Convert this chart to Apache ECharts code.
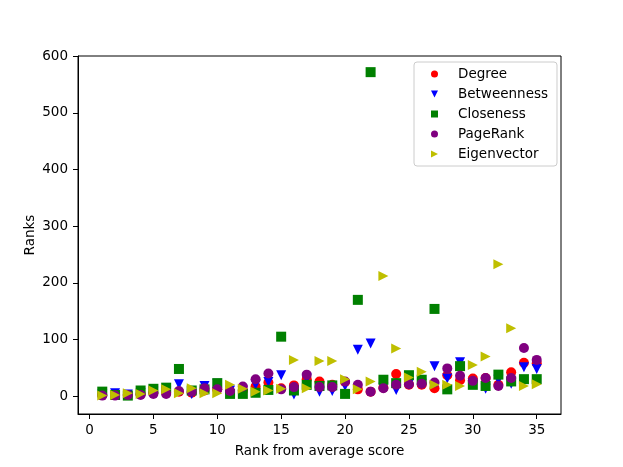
<!DOCTYPE html>
<html>
<head>
<meta charset="utf-8">
<script src="https://cdn.jsdelivr.net/npm/echarts@6/dist/echarts.min.js"></script>
<style>
html,body{margin:0;padding:0;background:#fff;}
#chart{width:623px;height:467px;}
</style>
</head>
<body>
<div id="chart"></div>
<script>
var ranks = [1,2,3,4,5,6,7,8,9,10,11,12,13,14,15,16,17,18,19,20,21,22,23,24,25,26,27,28,29,30,31,32,33,34,35];
var degree      = [2,3,2,4,6,6,8,6,10,12,8,10,17,24,14,19,30,26,20,25,12,8,15,39,20,20,14,37,28,31,32,20,42,59,58];
var betweenness = [3,5,3,5,8,8,21,4,18,22,10,10,20,25,37,3,31,8,9,18,82,93,15,11,22,22,53,31,60,22,13,29,22,51,48];
var closeness   = [8,2,1,10,13,15,48,10,12,23,4,4,6,11,105,10,20,18,19,4,170,572,29,23,37,29,154,12,53,20,18,38,26,30,30];
var pagerank    = [1,1,2,2,4,4,9,8,14,12,9,17,30,40,12,16,38,16,16,26,20,8,14,20,21,22,24,49,36,27,32,18,32,85,64];
var eigenvector = [1,2,5,4,10,12,5,14,5,5,20,13,8,10,13,64,14,62,62,30,12,26,212,84,33,43,20,20,18,55,70,233,120,18,21];
var xTicks = [0,5,10,15,20,25,30,35];
var yTicks = [0,100,200,300,400,500,600];
var seriesNames = ['Degree','Betweenness','Closeness','PageRank','Eigenvector'];

var FONT = 'DejaVu Sans';
var triDown = 'path://M-1,-1 L1,-1 L0,1 Z';
var triRight = 'path://M-1,-1 L1,0 L-1,1 Z';
var styles = [
  {color:'#ff0000', symbol:'circle', size:10},
  {color:'#0000ff', symbol:triDown, size:10},
  {color:'#008000', symbol:'rect', size:10},
  {color:'#800080', symbol:'circle', size:10},
  {color:'#bfbf00', symbol:triRight, size:10}
];
var values = [degree, betweenness, closeness, pagerank, eigenvector];

function pairs(arr){ return ranks.map(function(r,i){ return [r, arr[i]]; }); }

var chart = echarts.init(document.getElementById('chart'), null, {renderer:'canvas'});
chart.setOption({
  animation:false,
  backgroundColor:'#ffffff',
  textStyle:{fontFamily:FONT},
  grid:{left:78, right:62, top:56, bottom:53, show:true, borderColor:'#000', borderWidth:1, backgroundColor:'transparent'},
  legend:{
    orient:'vertical', left:414, top:62,
    padding:[2,9,2,17],
    itemWidth:7, itemHeight:7, itemGap:0,
    borderColor:'#cccccc', borderWidth:1, borderRadius:3, backgroundColor:'rgba(255,255,255,0.8)',
    textStyle:{fontFamily:FONT, fontSize:13.5, color:'#000', lineHeight:20, padding:[0,0,0,15]},
    data: seriesNames.map(function(n,i){ return {name:n, icon:styles[i].symbol, itemStyle:{color:styles[i].color}}; })
  },
  xAxis:{
    type:'value', min:-0.9, max:36.9,
    name:'Rank from average score', nameLocation:'middle', nameGap:30, nameMoveOverlap:false,
    nameTextStyle:{fontFamily:FONT, fontSize:13.5, color:'#000'},
    axisLine:{show:true, onZero:false, lineStyle:{color:'#000', width:1}},
    axisTick:{show:true, inside:false, length:5, lineStyle:{color:'#000'}, customValues:xTicks},
    axisLabel:{fontFamily:FONT, fontSize:13.5, color:'#000', margin:9, customValues:xTicks},
    splitLine:{show:false}
  },
  yAxis:{
    type:'value', min:-31.5, max:600.5,
    name:'Ranks', nameLocation:'middle', nameGap:41, nameRotate:90, nameMoveOverlap:false,
    nameTextStyle:{fontFamily:FONT, fontSize:13.5, color:'#000'},
    axisLine:{show:true, onZero:false, lineStyle:{color:'#000', width:1}},
    axisTick:{show:true, inside:false, length:5, lineStyle:{color:'#000'}, customValues:yTicks},
    axisLabel:{fontFamily:FONT, fontSize:13.5, color:'#000', margin:10, customValues:yTicks},
    splitLine:{show:false}
  },
  series: seriesNames.map(function(n,i){
    return {
      name:n, type:'scatter',
      symbol:styles[i].symbol, symbolSize:styles[i].size,
      itemStyle:{color:styles[i].color, opacity:1},
      data:pairs(values[i])
    };
  })
});
</script>
</body>
</html>
